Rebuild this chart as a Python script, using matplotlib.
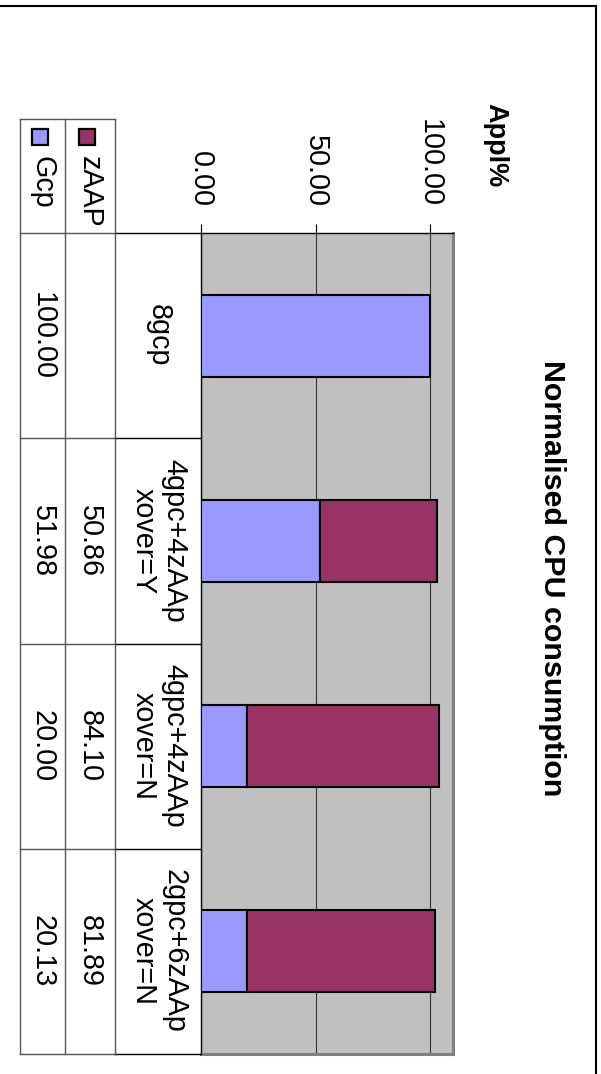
import numpy as np
import matplotlib
matplotlib.use("Agg")
import matplotlib.pyplot as plt
from matplotlib.transforms import blended_transform_factory
from matplotlib.patches import Rectangle
from matplotlib.lines import Line2D

plt.rcParams['font.family'] = ['Liberation Sans', 'DejaVu Sans']

# ---- data ----
categories = ["8gcp", "4gpc+4zAAp\nxover=Y", "4gpc+4zAAp\nxover=N", "2gpc+6zAAp\nxover=N"]
gcp = [100.00, 51.98, 20.00, 20.13]
zaap = [None, 50.86, 84.10, 81.89]
series_names = ["Gcp", "zAAP"]
series_colors = ["#9999FF", "#993366"]
value_ticks = [0, 50, 100]
title = "Normalised CPU consumption"
value_axis_title = "Appl%"

W, H = 601, 1074
fig = plt.figure(figsize=(W / 100, H / 100), dpi=100)
fig.patch.set_facecolor("white")

def fx(px):
    return px / W

def fy(py):
    return 1 - py / H

# plot area (rotated stacked column chart -> horizontal bars)
ax = fig.add_axes([fx(201), fy(1054), fx(453) - fx(201), fy(233) - fy(1054)])
ax.set_facecolor("#C0C0C0")

ypos = np.arange(len(categories))
gcp_arr = np.array(gcp, dtype=float)
zaap_arr = np.array([np.nan if v is None else v for v in zaap], dtype=float)

ax.barh(ypos, gcp_arr, height=0.4, color=series_colors[0], edgecolor="black",
        linewidth=1.5, zorder=3)
mask = ~np.isnan(zaap_arr)
ax.barh(ypos[mask], zaap_arr[mask], left=gcp_arr[mask], height=0.4,
        color=series_colors[1], edgecolor="black", linewidth=1.5, zorder=3)

ax.set_xlim(0, 110)
ax.set_ylim(len(categories) - 0.5, -0.5)
ax.set_xticks(value_ticks)
ax.set_xticklabels([f"{v:.2f}" for v in value_ticks])
ax.xaxis.tick_top()
ax.tick_params(axis="x", which="both", top=True, bottom=False, length=6.5,
               width=0.8, pad=12, labelsize=20.7, labelrotation=-90,
               colors="black")
ax.set_yticks([])
ax.grid(axis="x", color="#333333", linewidth=0.8, zorder=1)
ax.set_axisbelow(True)
for s in ["top", "left"]:
    ax.spines[s].set_color("black")
    ax.spines[s].set_linewidth(1.0)
for s in ["right", "bottom"]:
    ax.spines[s].set_color("#808080")
    ax.spines[s].set_linewidth(2.2)

# ---- data table at left ----
tr = blended_transform_factory(fig.transFigure, ax.transData)
line_kw = dict(color="#555555", linewidth=1.0)
col_edges = [20, 65, 115, 201]
n = len(categories)
# horizontal row lines
for i in range(n + 1):
    yb = i - 0.5
    fig.add_artist(Line2D([fx(col_edges[0]), fx(col_edges[2])], [yb, yb],
                          transform=tr, **line_kw))
    fig.add_artist(Line2D([fx(col_edges[2]), fx(col_edges[3])], [yb, yb],
                          transform=tr, color="black", linewidth=1.0))
# vertical column lines across rows
for xe in col_edges[:3]:
    fig.add_artist(Line2D([fx(xe), fx(xe)], [-0.5, n - 0.5], transform=tr, **line_kw))
    fig.add_artist(Line2D([fx(xe), fx(xe)], [fy(119), fy(233)],
                          transform=fig.transFigure, **line_kw))
fig.add_artist(Line2D([fx(20), fx(115)], [fy(119), fy(119)],
                      transform=fig.transFigure, **line_kw))

fs = 20.7
# category labels
for i, c in enumerate(categories):
    fig.text(fx(159), i, c, transform=tr, rotation=-90, rotation_mode="anchor",
             ha="center", va="center", multialignment="center", fontsize=fs,
             linespacing=1.12)
# values
col_centers = [42.5, 90]
for vals, cx in zip([gcp, zaap], col_centers):
    for i, v in enumerate(vals):
        if v is None:
            continue
        fig.text(fx(cx), i, f"{v:.2f}", transform=tr, rotation=-90,
                 rotation_mode="anchor", ha="center", va="center", fontsize=fs)

# legend keys in header
for name, color, cx in zip(series_names, series_colors, col_centers):
    sq = 16
    fig.add_artist(Rectangle((fx(cx - sq / 2 - 3), fy(129 + sq)), sq / W, sq / H,
                             transform=fig.transFigure, facecolor=color,
                             edgecolor="black", linewidth=1.6))
    fig.text(fx(cx), fy(156), name, rotation=-90, rotation_mode="anchor",
             ha="left", va="center", fontsize=fs)

# titles
fig.text(fx(552), fy(578), title, rotation=-90, ha="center", va="center",
         fontsize=21.9, fontweight="bold")
fig.text(fx(495), fy(145), value_axis_title, rotation=-90, ha="center",
         va="center", fontsize=19.5, fontweight="bold")

# chart frame (top and right edges visible)
fig.add_artist(Line2D([0, fx(596)], [fy(6), fy(6)], transform=fig.transFigure,
                      color="black", linewidth=1.5))
fig.add_artist(Line2D([fx(596), fx(596)], [fy(6), 0], transform=fig.transFigure,
                      color="black", linewidth=1.5))

fig.savefig("out.png", dpi=100)
